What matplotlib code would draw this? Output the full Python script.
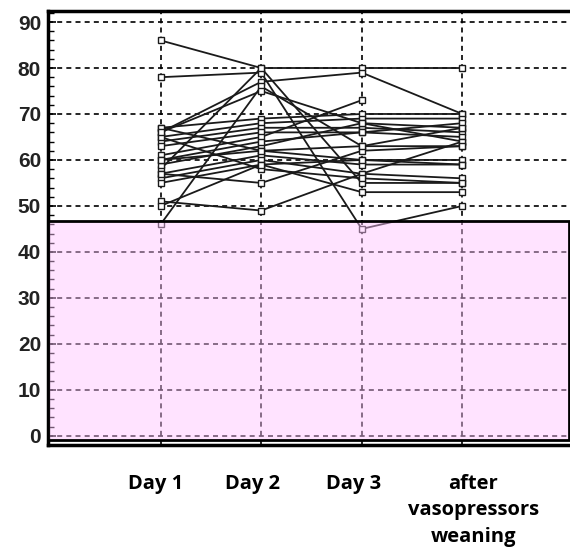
import numpy as np
import matplotlib
matplotlib.use("Agg")
import matplotlib.pyplot as plt
from matplotlib.ticker import MultipleLocator
from matplotlib.transforms import ScaledTranslation, blended_transform_factory
from matplotlib.patches import Rectangle

# Категории по оси X
stages = ["Day 1", "Day 2", "Day 3", "after\nvasopressors\nweaning"]

# Значения для каждого пациента по этапам (nan - нет измерения)
day1 = [86, 78, 66, 58, 46, 67, 65, 64, 63, 61, 59, 60, 57, 56, 55, 51, 65, 57, 67, 60, 66, 50]
day2 = [80, 79, 77, 80, 76, 69, 68, 67, 66, 65, 63, 62, 61, 60, 59, 49, 58, 55, 62, 64, 75, 59]
day3 = [80, 45, 79, 55, 63, 70, 69, 67, 66, 73, 68, 60, 59, 57, 53, 57, 56, 62, 63, 66, 68, 60]
after = [80, 50, 70, 55, 63, 70, 69, 66, 65, np.nan, 64, 60, 59, 64, 53, 56, 55, 63, 67, 68, 67, 59]

# Нижняя граница "нормы" (розовая зона)
zone_low, zone_high = -1, 46.8

x = np.arange(1, len(stages) + 1)
data = np.array([day1, day2, day3, after], dtype=float)

fig = plt.figure(figsize=(5.7, 5.59), dpi=100)
ax = fig.add_axes([48 / 570, 114 / 559, 535 / 570, 434 / 559])

# Пунктирная сетка
for yv in range(0, 100, 10):
    ax.axhline(yv, color="black", lw=1.2, ls=(0, (3, 2.5)), zorder=1)
for xv in x:
    ax.axvline(xv, color="black", lw=1.2, ls=(0, (3, 2.5)), zorder=1)

# Линии по каждому пациенту
for i in range(data.shape[1]):
    ax.plot(x, data[:, i], color="#1a1a1a", lw=1.3, marker="s", ms=4.5,
            mfc="white", mec="#1a1a1a", mew=1.0, zorder=3)

# Полупрозрачная розовая заливка поверх графика
trans = blended_transform_factory(ax.transAxes, ax.transData)
ax.add_patch(Rectangle((0.0, zone_low), 0.974, zone_high - zone_low, transform=trans,
                       facecolor=(1.0, 0.76, 1.0), alpha=0.45, edgecolor="none", zorder=5))
ax.add_patch(Rectangle((0.0, zone_low), 0.974, zone_high - zone_low, transform=trans,
                       facecolor="none", edgecolor="black", lw=2.0, zorder=6))

ax.set_xlim(-0.12, 5.2)
ax.set_ylim(-2, 92.4)

ax.yaxis.set_major_locator(MultipleLocator(10))
ax.yaxis.set_minor_locator(MultipleLocator(2))
ax.tick_params(axis="y", which="major", direction="in", length=6, width=1.2, pad=5,
               labelsize=15, labelcolor="#222222")
ax.tick_params(axis="y", which="minor", direction="in", length=4, width=1.0)
for lab in ax.get_yticklabels():
    lab.set_fontfamily("Liberation Sans")
    lab.set_fontweight("bold")

ax.set_xticks(x)
ax.set_xticklabels(stages, fontfamily="Open Sans", fontweight="bold", fontsize=14.5,
                   linespacing=1.42, va="top")
ax.tick_params(axis="x", length=0, pad=21)
# Небольшие сдвиги подписей по горизонтали
shifts = [-5, -9, -8, 11]
for lab, dx in zip(ax.get_xticklabels(), shifts):
    lab.set_transform(lab.get_transform() + ScaledTranslation(dx / 100, 0, fig.dpi_scale_trans))

for side in ["left", "top", "bottom"]:
    ax.spines[side].set_linewidth(2.5)
ax.spines["right"].set_visible(False)

fig.savefig("out.png", dpi=100)
